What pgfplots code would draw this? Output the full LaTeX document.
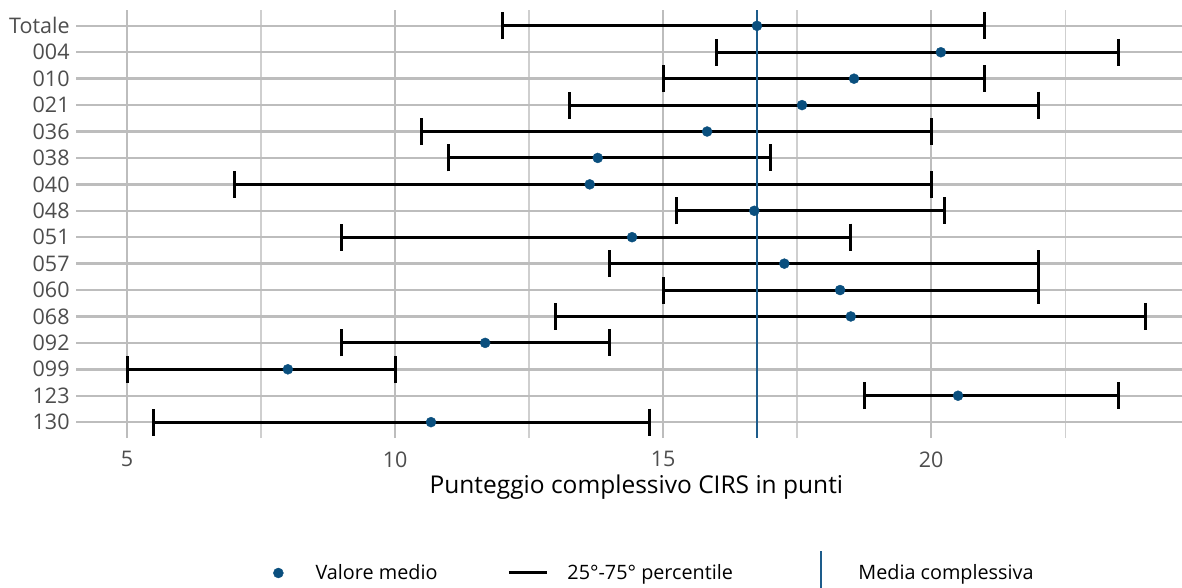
\documentclass[border=0pt]{standalone}
\usepackage{fontspec}
\setmainfont{Open Sans}
\usepackage{pgfplots}
\usepackage{pgfplotstable}
\pgfplotsset{compat=1.18}

\definecolor{dotblue}{HTML}{0A4F7E}
\definecolor{lineblue}{HTML}{1D5C8B}
\definecolor{majgrid}{HTML}{BDBDBD}
\definecolor{mingrid}{HTML}{CFCFCF}
\definecolor{ticktext}{HTML}{4D4D4D}

% y: position from bottom (130 = 1, Totale = 16); lo/hi = 25th/75th percentile
\pgfplotstableread{
y  lo     mean   hi
16 12     16.75  21
15 16     20.18  23.5
14 15     18.56  21
13 13.25  17.59  22
12 10.5   15.82  20
11 11     13.78  17
10 7      13.63  20
9  15.25  16.70  20.25
8  9      14.42  18.5
7  14     17.26  22
6  15     18.30  22
5  13     18.50  24
4  9      11.68  14
3  5      8.00   10
2  18.75  20.50  23.5
1  5.5    10.67  14.75
}\cirsdata

\begin{document}
\begin{tikzpicture}
\useasboundingbox (0,0) rectangle (1182bp,588bp);
\begin{axis}[
  at={(76.1bp,150bp)}, anchor=south west,
  scale only axis,
  width=1120.5bp, height=428bp,
  xmin=4.05, xmax=24.95,
  ymin=0.4, ymax=16.6,
  axis line style={draw=none},
  major tick length=0pt, minor tick length=0pt,
  xtick={5,10,15,20},
  minor xtick={7.5,12.5,17.5,22.5},
  ytick={1,...,16},
  yticklabels={130,123,099,092,068,060,057,051,048,040,038,036,021,010,004,Totale},
  xmajorgrids=true, xminorgrids=true, ymajorgrids=true,
  major grid style={majgrid, line width=2.4bp},
  minor grid style={mingrid, line width=1.4bp},
  /pgf/number format/assume math mode=true,
  tick label style={font=\fontsize{21.5bp}{24bp}\selectfont, text=ticktext},
  xticklabel style={yshift=-10bp},
  yticklabel style={xshift=-3bp},
  xlabel={Punteggio complessivo CIRS in punti},
  xlabel style={font=\fontsize{24.5bp}{28bp}\selectfont, text=black, yshift=-1bp},
  legend columns=3,
  legend style={
    at={(rel axis cs:0.1641,-0.3154)}, anchor=west,
    draw=none, fill=none, inner sep=0pt,
    font=\fontsize{19.8bp}{23bp}\selectfont,
    nodes={inner sep=0pt},
    column sep=19bp,
    /tikz/every even column/.append style={column sep=70bp},
  },
  legend cell align=left,
]
% percentile ranges
\addplot[draw=none, mark=none, forget plot,
  error bars/.cd, x dir=both, x explicit,
  error mark=|,
  error mark options={black, line width=3bp, mark size=13.5bp},
  error bar style={black, line width=3bp}]
  table[x=mean, y=y,
        x error plus expr=\thisrow{hi}-\thisrow{mean},
        x error minus expr=\thisrow{mean}-\thisrow{lo}] {\cirsdata};
% overall mean
\addplot[lineblue, line width=2.4bp, forget plot]
  coordinates {(16.75,0.4) (16.75,16.6)};
% group means
\addplot[only marks, mark=*, mark size=5bp, dotblue,
  mark options={draw=dotblue, fill=dotblue}, forget plot]
  table[x=mean, y=y] {\cirsdata};

\addlegendimage{legend image code/.code={%
  \path (0bp,0bp) (36bp,0bp);
  \fill[dotblue] (18bp,0bp) circle (5bp);}}
\addlegendentry{Valore medio}
\addlegendimage{legend image code/.code={%
  \draw[black, line width=3bp] (0bp,0bp) -- (38bp,0bp);}}
\addlegendentry{25°-75° percentile}
\addlegendimage{legend image code/.code={%
  \path (0bp,0bp) (36bp,0bp);
  \draw[lineblue, line width=2.4bp] (18bp,-22bp) -- (18bp,22bp);}}
\addlegendentry{Media complessiva}
\end{axis}
\end{tikzpicture}
\end{document}
